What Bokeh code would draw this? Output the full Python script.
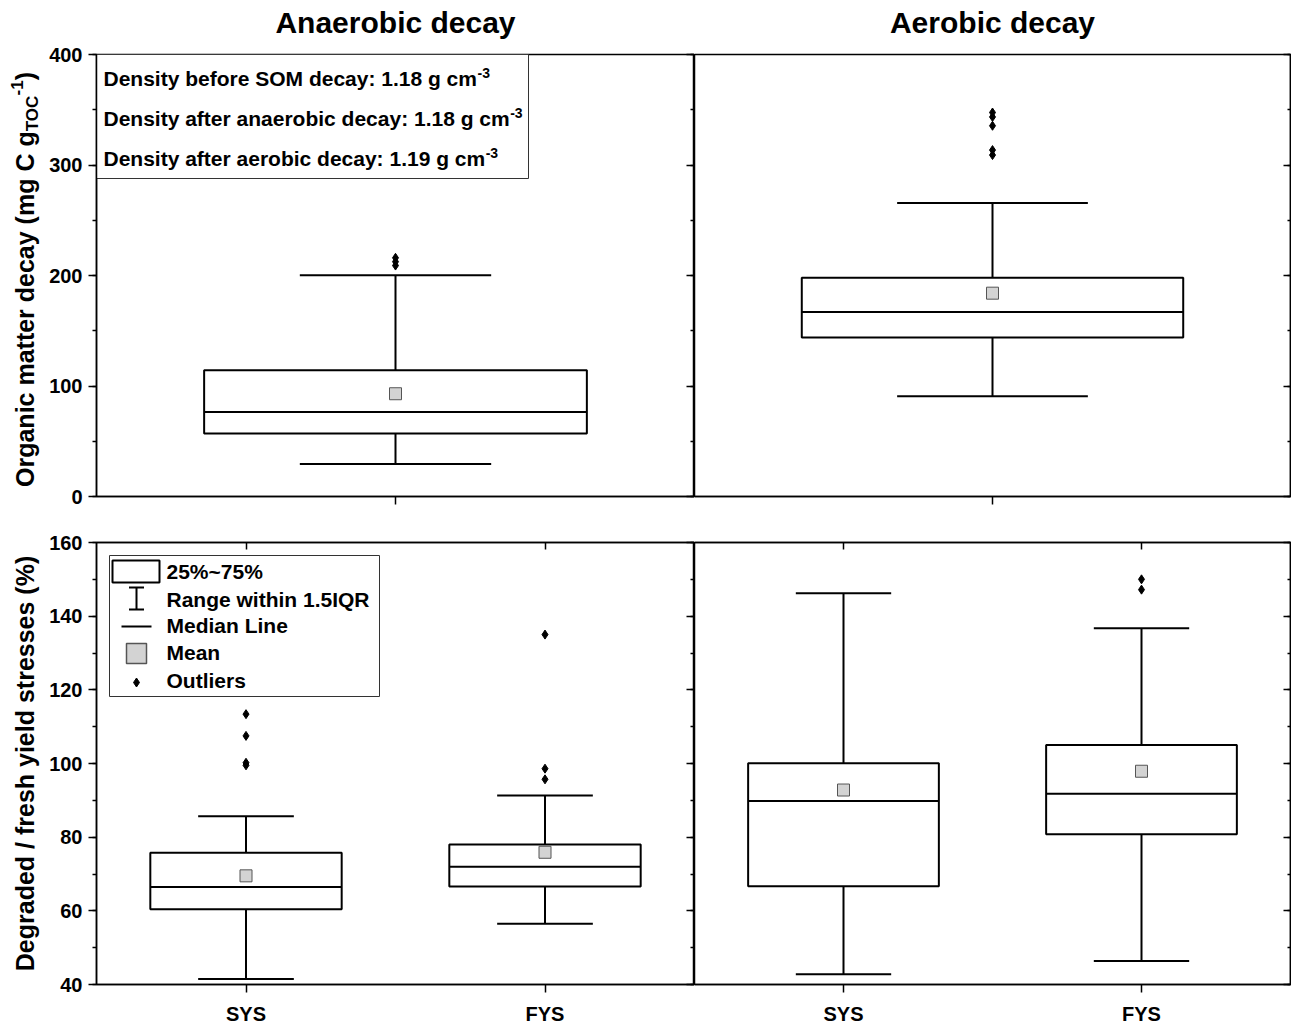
import math
from bokeh.plotting import figure
from bokeh.layouts import gridplot
from bokeh.models import Range1d, FixedTicker, SingleIntervalTicker, LinearAxis, CustomJSTickFormatter
from bokeh.core.properties import value
from bokeh.embed import file_html
from bokeh.resources import INLINE

FONT = "Liberation Sans"

# ---------------- data ----------------
panel_titles = ["Anaerobic decay", "Aerobic decay"]

# top row: organic matter decay (mg C g_TOC^-1), one box per panel
om_low = [29.5, 90.8]
om_q1 = [57.0, 144.0]
om_median = [76.5, 167.0]
om_q3 = [114.3, 198.0]
om_high = [200.2, 265.5]
om_mean = [93.0, 184.0]
om_outliers = [[209.0, 212.5, 216.0], [309.0, 313.5, 335.5, 343.5, 347.5]]
om_ticks = [0, 100, 200, 300, 400]

# bottom row: degraded / fresh yield stresses (%), per panel [SYS, FYS]
ys_groups = ["SYS", "FYS"]
ys_low = [[41.5, 56.5], [42.8, 46.4]]
ys_q1 = [[60.4, 66.6], [66.7, 80.8]]
ys_median = [[66.5, 72.0], [89.8, 91.8]]
ys_q3 = [[75.8, 78.0], [100.1, 105.0]]
ys_high = [[85.7, 91.3], [146.2, 136.7]]
ys_mean = [[69.5, 75.9], [92.8, 97.9]]
ys_outliers = [[[99.5, 100.2, 107.5, 113.4], [95.7, 98.6, 135.0]],
               [[], [147.2, 150.0]]]
ys_ticks = [40, 60, 80, 100, 120, 140, 160]

density_labels = ["Density before SOM decay: 1.18 g cm",
                  "Density after anaerobic decay: 1.18 g cm",
                  "Density after aerobic decay: 1.19 g cm"]
density_sup = "-3"
legend_labels = ["25%~75%", "Range within 1.5IQR", "Median Line", "Mean", "Outliers"]
om_ylabel = ["Organic matter decay (mg C g", "TOC", "-1", ")"]
ys_ylabel = "Degraded / fresh yield stresses (%)"

# ---------------- helpers ----------------
AW = {' ': 278, '(': 333, ')': 333, '-': 333, '.': 278, '/': 278, ':': 333, '%': 889, '~': 584,
      'A': 722, 'B': 722, 'C': 722, 'D': 722, 'E': 667, 'F': 611, 'G': 778, 'H': 722, 'I': 278,
      'J': 556, 'K': 722, 'L': 611, 'M': 833, 'N': 722, 'O': 778, 'P': 667, 'Q': 778, 'R': 722,
      'S': 667, 'T': 611, 'U': 722, 'V': 667, 'W': 944, 'X': 667, 'Y': 667, 'Z': 611,
      'a': 556, 'b': 611, 'c': 556, 'd': 611, 'e': 556, 'f': 333, 'g': 611, 'h': 611, 'i': 278,
      'j': 278, 'k': 556, 'l': 278, 'm': 889, 'n': 611, 'o': 611, 'p': 611, 'q': 611, 'r': 389,
      's': 556, 't': 333, 'u': 611, 'v': 556, 'w': 778, 'x': 556, 'y': 556, 'z': 500}
CAP_MID = 0.358  # cap-height centre above the baseline, in em


def text_w(s, size):
    return sum(AW.get(c, 556) for c in s) / 1000.0 * size


class Frame:
    def __init__(self, xr, yr, w, h):
        self.x0, self.x1 = xr
        self.y0, self.y1 = yr
        self.w, self.h = w, h

    def dx(self, px):  # px from frame left -> data x
        return self.x0 + px * (self.x1 - self.x0) / self.w

    def dy(self, px):  # px from frame top -> data y
        return self.y1 - px * (self.y1 - self.y0) / self.h


def make_fig(fr, left, right, top, bottom, outline=True):
    p = figure(x_range=Range1d(fr.x0, fr.x1), y_range=Range1d(fr.y0, fr.y1),
               frame_width=fr.w, frame_height=fr.h, min_border=0,
               min_border_left=left, min_border_right=right,
               min_border_top=top, min_border_bottom=bottom,
               output_backend="svg", toolbar_location=None, tools="",
               x_axis_location=None, y_axis_location=None)
    p.xgrid.visible = False
    p.ygrid.visible = False
    p.outline_line_color = "black" if outline else None
    p.outline_line_width = 1.5
    p.background_fill_color = "white"
    p.border_fill_color = "white"
    return p


def add_axis(p, side, ticker, tin, tout, min_in=0, min_out=0, labels=False,
             overrides=None, standoff=6):
    ax = LinearAxis(ticker=ticker, axis_line_color="black", axis_line_width=1.5,
                    major_tick_line_color="black", major_tick_line_width=1.5,
                    minor_tick_line_color="black", minor_tick_line_width=1.5,
                    major_tick_in=tin, major_tick_out=tout,
                    minor_tick_in=min_in, minor_tick_out=min_out,
                    major_label_text_font=FONT, major_label_text_font_style="bold")
    if labels:
        ax.major_label_text_color = "black"
        ax.major_label_text_font_size = "20px"
        ax.major_label_standoff = standoff
        if overrides:
            ax.major_label_overrides = overrides
    else:
        ax.formatter = CustomJSTickFormatter(code="return ''")
        ax.major_label_text_color = None
        ax.major_label_text_font_size = "1px"
        ax.major_label_standoff = 0
    p.add_layout(ax, side)


def draw_boxes(p, xs, lo, q1, med, q3, hi, mean, outs, width=0.64):
    half, cap = width / 2, width / 4
    lw = 2
    p.segment(x0=xs, y0=q3, x1=xs, y1=hi, line_color="black", line_width=lw)
    p.segment(x0=xs, y0=lo, x1=xs, y1=q1, line_color="black", line_width=lw)
    p.segment(x0=[x - cap for x in xs], y0=hi, x1=[x + cap for x in xs], y1=hi,
              line_color="black", line_width=lw)
    p.segment(x0=[x - cap for x in xs], y0=lo, x1=[x + cap for x in xs], y1=lo,
              line_color="black", line_width=lw)
    p.vbar(x=xs, width=width, bottom=q1, top=q3, fill_color="white",
           line_color="black", line_width=lw)
    p.segment(x0=[x - half for x in xs], y0=med, x1=[x + half for x in xs], y1=med,
              line_color="black", line_width=lw)
    p.scatter(x=xs, y=mean, marker="square", size=12, fill_color="#d3d3d3",
              line_color="#555555", line_width=1)
    ox, oy = [], []
    for x, o in zip(xs, outs):
        ox += [x] * len(o)
        oy += list(o)
    if oy:
        p.scatter(x=ox, y=oy, marker="diamond", size=9, fill_color="black",
                  line_color="black")


def btext(p, x, y, s, size, angle=0.0, align="left"):
    # anchored at the vertical middle of the text line
    p.text(x=[x], y=[y], text=[s], angle=angle, text_font=value(FONT),
           text_font_style="bold", text_font_size=f"{size}px", text_color="black",
           text_align=align, text_baseline="middle")


# ---------------- layout (px) ----------------
COL0 = 46          # y-label column
BL = 50            # left border of left panels (tick labels)
FW_L, FW_R, FH = 598, 596, 442
TITLE_H = 42
TOP_B = 12
GAP_A, GAP_B = 23, 23
BOT_B = 42
YLAB_BASE = 33     # baseline x inside the label column

om_interval = om_ticks[1] - om_ticks[0]
ys_interval = ys_ticks[1] - ys_ticks[0]
om_yr = (om_ticks[0], om_ticks[-1])
ys_yr = (ys_ticks[0], ys_ticks[-1])
ys_x = [i + 1 for i in range(len(ys_groups))]
ys_xr = (0.5, len(ys_groups) + 0.5)
om_xr = (0.5, 1.5)

fr_tl = Frame(om_xr, om_yr, FW_L, FH)
fr_tr = Frame(om_xr, om_yr, FW_R, FH)
fr_bl = Frame(ys_xr, ys_yr, FW_L, FH)
fr_br = Frame(ys_xr, ys_yr, FW_R, FH)

p_tl = make_fig(fr_tl, BL, 0, TOP_B, GAP_A)
p_tr = make_fig(fr_tr, 0, 1, TOP_B, GAP_A)
p_bl = make_fig(fr_bl, BL, 0, GAP_B, BOT_B)
p_br = make_fig(fr_br, 0, 1, GAP_B, BOT_B)

# title row (baseline 33 px below the page top)
fr_ttl = Frame((0, FW_L), (0, TITLE_H), FW_L, TITLE_H)
fr_ttr = Frame((0, FW_R), (0, TITLE_H), FW_R, TITLE_H)
t_l = make_fig(fr_ttl, BL, 0, 0, 0, outline=False)
t_r = make_fig(fr_ttr, 0, 1, 0, 0, outline=False)
for tp, fr, ttl in [(t_l, fr_ttl, panel_titles[0]), (t_r, fr_ttr, panel_titles[1])]:
    btext(tp, fr.w / 2, fr.dy(33 - CAP_MID * 30), ttl, 30, align="center")

# y-label column
fr_yl1 = Frame((0, COL0), (0, FH), COL0, FH)
fr_yl2 = Frame((0, COL0), (0, FH), COL0, FH)
yl1 = make_fig(fr_yl1, 0, 0, TOP_B, GAP_A, outline=False)
yl2 = make_fig(fr_yl2, 0, 0, GAP_B, BOT_B, outline=False)

sizes = [25, 17, 17, 25]
shifts = [0, 5, -10, 0]
widths = [text_w(s, sz) for s, sz in zip(om_ylabel, sizes)]
y_start = FH / 2 - sum(widths) / 2 - 4
cum = 0.0
for s, sz, sh, w in zip(om_ylabel, sizes, shifts, widths):
    btext(yl1, YLAB_BASE + sh - CAP_MID * sz, y_start + cum, s, sz, angle=math.pi / 2)
    cum += w
btext(yl2, YLAB_BASE - CAP_MID * 25, FH / 2 - text_w(ys_ylabel, 25) / 2, ys_ylabel, 25,
      angle=math.pi / 2)

# axes
for p, left_panel in [(p_tl, True), (p_tr, False)]:
    if left_panel:
        add_axis(p, "left", SingleIntervalTicker(interval=om_interval, num_minor_ticks=2),
                 0, 8, 0, 4, labels=True, standoff=6)
        add_axis(p, "right", SingleIntervalTicker(interval=om_interval, num_minor_ticks=2),
                 8, 0, 4, 0)
    else:
        add_axis(p, "right", SingleIntervalTicker(interval=om_interval, num_minor_ticks=2),
                 7, 0, 3, 0)
    add_axis(p, "below", FixedTicker(ticks=[1], minor_ticks=[]), 0, 8)

ov = {x: g for x, g in zip(ys_x, ys_groups)}
for p, left_panel in [(p_bl, True), (p_br, False)]:
    if left_panel:
        add_axis(p, "left", SingleIntervalTicker(interval=ys_interval, num_minor_ticks=2),
                 0, 8, 0, 4, labels=True, standoff=6)
        add_axis(p, "right", SingleIntervalTicker(interval=ys_interval, num_minor_ticks=2),
                 8, 0, 4, 0)
    else:
        add_axis(p, "right", SingleIntervalTicker(interval=ys_interval, num_minor_ticks=2),
                 7, 0, 3, 0)
    add_axis(p, "below", FixedTicker(ticks=ys_x, minor_ticks=[]), 0, 8,
             labels=True, overrides=ov, standoff=10)
    add_axis(p, "above", FixedTicker(ticks=ys_x, minor_ticks=[]), 7, 0)

# boxes
for i, p in enumerate([p_tl, p_tr]):
    draw_boxes(p, [1], [om_low[i]], [om_q1[i]], [om_median[i]], [om_q3[i]],
               [om_high[i]], [om_mean[i]], [om_outliers[i]])
for i, p in enumerate([p_bl, p_br]):
    draw_boxes(p, ys_x, ys_low[i], ys_q1[i], ys_median[i], ys_q3[i], ys_high[i],
               ys_mean[i], ys_outliers[i])

# density text box (top-left)
fr = fr_tl
p_tl.quad(left=fr.dx(0), right=fr.dx(432), top=fr.dy(0), bottom=fr.dy(124),
          fill_color="white", line_color="#333333", line_width=1)
for k, s in enumerate(density_labels):
    base = 32 + 40 * k
    btext(p_tl, fr.dx(7), fr.dy(base - CAP_MID * 21), s, 21)
    btext(p_tl, fr.dx(7 + text_w(s, 21) + 0.5), fr.dy(base - 8 - CAP_MID * 14), density_sup, 14)

# legend (bottom-left)
fr = fr_bl
p_bl.quad(left=fr.dx(13), right=fr.dx(283), top=fr.dy(13), bottom=fr.dy(154),
          fill_color="white", line_color="#333333", line_width=1)
p_bl.quad(left=fr.dx(16), right=fr.dx(63), top=fr.dy(18), bottom=fr.dy(40),
          fill_color="white", line_color="black", line_width=2)
ib_x = fr.dx(40)
p_bl.segment(x0=[ib_x], y0=[fr.dy(45)], x1=[ib_x], y1=[fr.dy(67)], line_color="black", line_width=2)
p_bl.segment(x0=[fr.dx(32.5), fr.dx(32.5)], y0=[fr.dy(45), fr.dy(67)],
             x1=[fr.dx(47.5), fr.dx(47.5)], y1=[fr.dy(45), fr.dy(67)],
             line_color="black", line_width=2)
p_bl.segment(x0=[fr.dx(25)], y0=[fr.dy(84)], x1=[fr.dx(55)], y1=[fr.dy(84)],
             line_color="black", line_width=2)
p_bl.scatter(x=[fr.dx(40)], y=[fr.dy(111)], marker="square", size=20,
             fill_color="#d3d3d3", line_color="#555555", line_width=1.5)
p_bl.scatter(x=[fr.dx(40)], y=[fr.dy(140)], marker="diamond", size=9,
             fill_color="black", line_color="black")
for k, s in enumerate(legend_labels):
    base = [37, 64.5, 91, 118, 146][k]
    btext(p_bl, fr.dx(70), fr.dy(base - CAP_MID * 21), s, 21)

grid = gridplot([[None, t_l, t_r], [yl1, p_tl, p_tr], [yl2, p_bl, p_br]],
                toolbar_location=None)

open("out.html", "w").write(file_html(grid, INLINE))
